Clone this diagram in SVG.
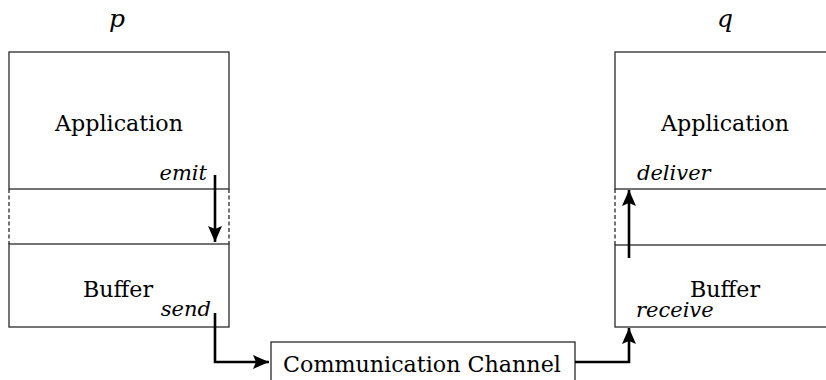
<svg xmlns="http://www.w3.org/2000/svg" width="826" height="380" viewBox="0 0 826 380">
<defs>
<style>
.box{fill:#fff;stroke:#2a2a2a;stroke-width:1.3}
.dash{stroke:#2a2a2a;stroke-width:1.3;stroke-dasharray:4 2.5;fill:none}
.t{font-family:'DejaVu Serif','Liberation Serif',serif;font-size:22.2px;fill:#000}
.i{font-style:italic;font-size:21px}
.lbl{font-size:25px}
.arr{stroke:#000;stroke-width:2.6;fill:none;marker-end:url(#ah)}
</style>
<marker id="ah" markerUnits="userSpaceOnUse" markerWidth="17" markerHeight="15" refX="16" refY="7" orient="auto">
<path d="M0,0 L16,7 L0,14 L3,7 z" fill="#000"/>
</marker>
</defs>
<rect width="826" height="380" fill="#fff"/>
<g id="p">
<text class="t i lbl" x="117" y="27" text-anchor="middle">p</text>
<rect class="box" x="9" y="52" width="220" height="137"/>
<text class="t" x="119" y="131" text-anchor="middle">Application</text>
<text class="t i" x="207" y="180" text-anchor="end">emit</text>
<line class="dash" x1="9" y1="189" x2="9" y2="244"/>
<line class="dash" x1="229" y1="189" x2="229" y2="244"/>
<rect class="box" x="9" y="244" width="220" height="83"/>
<text class="t" x="83" y="297">Buffer</text>
<text class="t i" x="211" y="316" text-anchor="end">send</text>
</g>
<g id="q">
<text class="t i lbl" x="725" y="27" text-anchor="middle">q</text>
<rect class="box" x="615" y="52" width="220" height="137"/>
<text class="t" x="725" y="131" text-anchor="middle">Application</text>
<text class="t i" x="637" y="180">deliver</text>
<line class="dash" x1="615" y1="189" x2="615" y2="245"/>
<rect class="box" x="615" y="245" width="220" height="82"/>
<text class="t" x="725" y="297" text-anchor="middle">Buffer</text>
<text class="t i" x="636" y="317">receive</text>
</g>
<g id="channel">
<rect class="box" x="271" y="342" width="304" height="60"/>
<text class="t" x="422" y="372" text-anchor="middle">Communication Channel</text>
</g>
<g id="connectors">
<path class="arr" d="M215,175 V242"/>
<path class="arr" d="M215,313 V362 H269"/>
<path class="arr" d="M575,362 H629 V328"/>
<path class="arr" d="M629,258 V190"/>
</g>
</svg>
